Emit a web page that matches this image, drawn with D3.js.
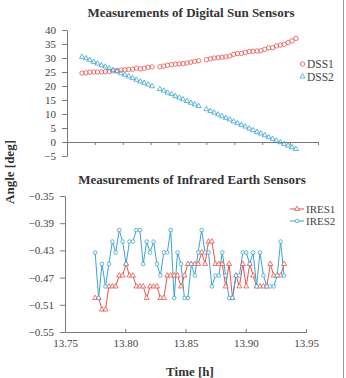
<!DOCTYPE html>
<html>
<head>
<meta charset="utf-8">
<script src="https://d3js.org/d3.v7.min.js"></script>
<style>
  body { margin: 0; background: #fff; }
  svg { display: block; font-family: "Liberation Serif", "Times New Roman", serif; }
  .title { font-weight: bold; font-size: 13px; fill: #333; }
  .label { font-weight: bold; font-size: 13px; fill: #333; }
  .axis path, .axis line { stroke: #7a7a7a; }
  .axis text { font-family: "Liberation Serif", "Times New Roman", serif; font-size: 11px; fill: #444; }
  .legend text { font-size: 11.5px; fill: #444; }
  .legend2 text { font-size: 11px; fill: #444; }
</style>
</head>
<body>
<script>
// sample times [h]
var time = [13.7750, 13.7779, 13.7807, 13.7836, 13.7864, 13.7893, 13.7921, 13.7950,
            13.7978, 13.8007, 13.8035, 13.8064, 13.8092, 13.8121, 13.8149, 13.8178,
            13.8206, 13.8235, 13.8263, 13.8292, 13.8320, 13.8349, 13.8377, 13.8406,
            13.8434, 13.8463, 13.8491, 13.8520, 13.8548, 13.8577, 13.8605, 13.8634,
            13.8662, 13.8691, 13.8719, 13.8748, 13.8776, 13.8805, 13.8833, 13.8862,
            13.8890, 13.8919, 13.8947, 13.8976, 13.9004, 13.9033, 13.9061, 13.9090,
            13.9118, 13.9147, 13.9175, 13.9204, 13.9232, 13.9261, 13.9289, 13.9318];

// digital sun sensors [deg], null = no sample
var dss1 = [24.6, 24.7, 24.9, 25.0, 25.0, 25.0, 25.1, 25.2, 25.4, 25.5, 25.7, 25.8,
            25.9, 26.0, 26.4, 26.1, 26.3, 26.7, 26.8, null, 26.9, 27.1, 27.4, 27.6,
            27.8, 27.9, 28.0, 28.2, 28.5, 28.8, 29.0, null, 29.4, 29.7, 30.0, 30.1,
            30.3, 30.4, 30.7, 31.3, 31.6, 31.6, 32.0, 32.3, 32.4, 32.5, 32.6, 33.1,
            33.6, 33.7, 34.3, 34.6, 34.9, 35.5, 36.1, 37.0];
var dss2 = [30.4, 29.9, 29.3, 28.6, 28.0, 27.4, 26.9, 26.3, 25.7, 25.2, 24.5, 24.0,
            23.4, 22.8, 22.2, 21.6, 21.1, 20.5, 19.9, null, 18.9, 18.3, 17.6, 17.1,
            16.4, 15.8, 15.2, 14.6, 14.0, 13.4, 12.8, null, 11.7, 11.1, 10.5, 9.8,
            9.2, 8.6, 8.0, 7.3, 6.7, 6.1, 5.5, 4.8, 4.2, 3.6, 3.0, 2.4,
            1.7, 1.1, 0.5, -0.1, -0.7, -1.3, -1.9, -2.5];

// infrared earth sensors [deg]
var ires1 = [-0.500, -0.500, -0.517, -0.517, -0.483, -0.483, -0.483, -0.467, -0.467, -0.450,
             -0.467, -0.467, -0.483, -0.483, -0.483, -0.500, -0.483, -0.483, -0.483, -0.500,
             -0.500, -0.467, -0.467, -0.467, -0.467, -0.483, -0.467, -0.450, -0.450, -0.450,
             -0.450, -0.433, -0.450, -0.417, -0.417, -0.450, -0.450, -0.450, -0.483, -0.450,
             -0.500, -0.467, -0.483, -0.450, -0.483, -0.450, -0.467, -0.483, -0.483, -0.483,
             -0.483, -0.450, -0.467, -0.467, -0.467, -0.450];
var ires2 = [-0.433, -0.500, -0.450, -0.483, -0.450, -0.417, -0.433, -0.400, -0.417, -0.450,
             -0.417, -0.417, -0.400, -0.400, -0.450, -0.417, -0.433, -0.417, -0.450, -0.467,
             -0.433, -0.433, -0.400, -0.500, -0.433, -0.450, -0.500, -0.500, -0.450, -0.467,
             -0.433, -0.400, -0.433, -0.433, -0.483, -0.467, -0.467, -0.433, -0.467, -0.500,
             -0.500, -0.467, -0.467, -0.433, -0.433, -0.450, -0.433, -0.483, -0.433, -0.467,
             -0.483, -0.483, -0.483, -0.467, -0.417, -0.467];

var dssYTicks = [40, 35, 30, 25, 20, 15, 10, 5, 0, -5];
var dssXTicks = [13.764, 13.7844, 13.8049, 13.8253, 13.8458, 13.8662, 13.8866, 13.9071, 13.9275, 13.948];
var iresYTicks = [-0.35, -0.39, -0.43, -0.47, -0.51, -0.55];
var iresXTicks = [13.75, 13.80, 13.85, 13.90, 13.95];

var red = "#e8534b", blue = "#3aa3cf";

var svg = d3.select("body").append("svg")
    .attr("width", 346)
    .attr("height", 378);

svg.append("rect").attr("width", 346).attr("height", 378).attr("fill", "#fff");

// right frame line
svg.append("line")
    .attr("x1", 343.5).attr("x2", 343.5).attr("y1", 0).attr("y2", 378)
    .attr("stroke", "#999").attr("stroke-width", 1);

/* ---- top chart: digital sun sensors ---- */
var x1 = d3.scaleLinear().domain([13.764, 13.948]).range([67, 318]);
var y1 = d3.scaleLinear().domain([-5, 40]).range([156, 30]);

svg.append("text").attr("class", "title")
    .attr("x", 191).attr("y", 17).attr("text-anchor", "middle")
    .text("Measurements of Digital Sun Sensors");

svg.append("g").attr("class", "axis")
    .attr("transform", "translate(0," + y1(0) + ")")
    .call(d3.axisBottom(x1).tickValues(dssXTicks).tickSize(3).tickSizeOuter(3).tickFormat(""));

svg.append("g").attr("class", "axis")
    .attr("transform", "translate(67,0)")
    .call(d3.axisLeft(y1).tickValues(dssYTicks).tickSize(5).tickSizeOuter(0).tickPadding(6)
      .tickFormat(d3.format("d")));

var sun1 = time.map(function (t, i) { return { t: t, v: dss1[i] }; }).filter(function (d) { return d.v != null; });
var sun2 = time.map(function (t, i) { return { t: t, v: dss2[i] }; }).filter(function (d) { return d.v != null; });

svg.append("g").selectAll("circle").data(sun1).enter().append("circle")
    .attr("cx", function (d) { return x1(d.t); })
    .attr("cy", function (d) { return y1(d.v); })
    .attr("r", 2.2)
    .attr("fill", "none").attr("stroke", red).attr("stroke-width", 0.8);

var tri = d3.symbol().type(d3.symbolTriangle).size(11);
svg.append("g").selectAll("path").data(sun2).enter().append("path")
    .attr("d", tri)
    .attr("transform", function (d) { return "translate(" + x1(d.t) + "," + y1(d.v) + ")"; })
    .attr("fill", "none").attr("stroke", blue).attr("stroke-width", 0.8);

var lg1 = svg.append("g").attr("class", "legend");
lg1.append("circle").attr("cx", 302.5).attr("cy", 64).attr("r", 2.2)
    .attr("fill", "none").attr("stroke", red).attr("stroke-width", 0.8);
lg1.append("text").attr("x", 307).attr("y", 64).attr("dy", "0.35em").text("DSS1");
lg1.append("path").attr("d", tri).attr("transform", "translate(302.5,76.5)")
    .attr("fill", "none").attr("stroke", blue).attr("stroke-width", 0.8);
lg1.append("text").attr("x", 307).attr("y", 76.5).attr("dy", "0.35em").text("DSS2");

/* ---- bottom chart: infrared earth sensors ---- */
var x2 = d3.scaleLinear().domain([13.75, 13.95]).range([65, 306]);
var y2 = d3.scaleLinear().domain([-0.55, -0.35]).range([332, 196]);

svg.append("text").attr("class", "title")
    .attr("x", 192).attr("y", 183.5).attr("text-anchor", "middle")
    .text("Measurements of Infrared Earth Sensors");

svg.append("g").attr("class", "axis")
    .attr("transform", "translate(0,332)")
    .call(d3.axisBottom(x2).tickValues(iresXTicks).tickSize(-3).tickSizeOuter(-3).tickPadding(7)
      .tickFormat(d3.format(".2f")));

svg.append("g").attr("class", "axis")
    .attr("transform", "translate(65,0)")
    .call(d3.axisLeft(y2).tickValues(iresYTicks).tickSize(5).tickSizeOuter(0).tickPadding(6)
      .tickFormat(d3.format(".2f")));

var e1 = time.map(function (t, i) { return { t: t, v: ires1[i] }; });
var e2 = time.map(function (t, i) { return { t: t, v: ires2[i] }; });

var line2 = d3.line()
    .x(function (d) { return x2(d.t); })
    .y(function (d) { return y2(d.v); });

svg.append("path").datum(e1).attr("d", line2)
    .attr("fill", "none").attr("stroke", red).attr("stroke-width", 1);
svg.append("path").datum(e2).attr("d", line2)
    .attr("fill", "none").attr("stroke", blue).attr("stroke-width", 1);

svg.append("g").selectAll("path").data(e1).enter().append("path")
    .attr("d", tri)
    .attr("transform", function (d) { return "translate(" + x2(d.t) + "," + y2(d.v) + ")"; })
    .attr("fill", "#fff").attr("stroke", red).attr("stroke-width", 0.8);

svg.append("g").selectAll("circle").data(e2).enter().append("circle")
    .attr("cx", function (d) { return x2(d.t); })
    .attr("cy", function (d) { return y2(d.v); })
    .attr("r", 1.8)
    .attr("fill", "#fff").attr("stroke", blue).attr("stroke-width", 0.8);

var lg2 = svg.append("g").attr("class", "legend2");
lg2.append("line").attr("x1", 290).attr("x2", 304).attr("y1", 209).attr("y2", 209)
    .attr("stroke", red).attr("stroke-width", 1);
lg2.append("path").attr("d", tri).attr("transform", "translate(297,209)")
    .attr("fill", "#fff").attr("stroke", red).attr("stroke-width", 0.8);
lg2.append("text").attr("x", 306).attr("y", 209).attr("dy", "0.35em").text("IRES1");
lg2.append("line").attr("x1", 290).attr("x2", 304).attr("y1", 221).attr("y2", 221)
    .attr("stroke", blue).attr("stroke-width", 1);
lg2.append("circle").attr("cx", 297).attr("cy", 221).attr("r", 1.8)
    .attr("fill", "#fff").attr("stroke", blue).attr("stroke-width", 0.8);
lg2.append("text").attr("x", 306).attr("y", 221).attr("dy", "0.35em").text("IRES2");

/* ---- shared axis titles ---- */
svg.append("text").attr("class", "label")
    .attr("transform", "translate(14,172) rotate(-90)")
    .attr("text-anchor", "middle")
    .text("Angle [deg]");

svg.append("text").attr("class", "label")
    .attr("x", 190).attr("y", 376).attr("text-anchor", "middle")
    .text("Time [h]");
</script>
</body>
</html>
